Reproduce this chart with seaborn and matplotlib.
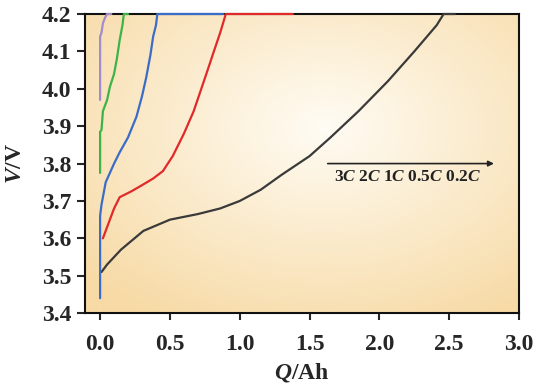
import numpy as np
import pandas as pd
import matplotlib
matplotlib.use("Agg")
import matplotlib.pyplot as plt
import seaborn as sns

sns.set_style("ticks")
plt.rcParams['font.family'] = ['Liberation Serif', 'DejaVu Serif']
plt.rcParams['font.weight'] = 'bold'
plt.rcParams['mathtext.fontset'] = 'custom'
plt.rcParams['mathtext.rm'] = 'Liberation Serif:bold'
plt.rcParams['mathtext.it'] = 'Liberation Serif:italic:bold'
plt.rcParams['mathtext.bf'] = 'Liberation Serif:bold'

# charge curves, Q in Ah, V in volts
q_02c = [0.01, 0.05, 0.15, 0.31, 0.5, 0.7, 0.86, 1.0, 1.15, 1.3, 1.5, 1.65, 1.85, 2.06, 2.25, 2.41, 2.46, 2.54]
v_02c = [3.51, 3.53, 3.57, 3.62, 3.65, 3.665, 3.68, 3.70, 3.73, 3.77, 3.82, 3.87, 3.94, 4.02, 4.10, 4.17, 4.2, 4.2]

q_05c = [0.02, 0.05, 0.10, 0.14, 0.22, 0.29, 0.38, 0.45, 0.52, 0.60, 0.67, 0.72, 0.77, 0.81, 0.86, 0.9, 1.38]
v_05c = [3.60, 3.63, 3.68, 3.71, 3.725, 3.74, 3.76, 3.78, 3.82, 3.88, 3.94, 3.995, 4.05, 4.095, 4.15, 4.2, 4.2]

q_1c = [0.0, 0.0, 0.01, 0.02, 0.04, 0.07, 0.10, 0.14, 0.20, 0.26, 0.30, 0.33, 0.36, 0.38, 0.40, 0.41, 0.88]
v_1c = [3.44, 3.66, 3.69, 3.71, 3.75, 3.775, 3.80, 3.83, 3.87, 3.925, 3.98, 4.03, 4.09, 4.14, 4.17, 4.2, 4.2]

q_2c = [0.0, 0.0, 0.01, 0.02, 0.05, 0.07, 0.10, 0.12, 0.14, 0.16, 0.17, 0.2]
v_2c = [3.775, 3.885, 3.89, 3.94, 3.97, 4.005, 4.04, 4.08, 4.13, 4.17, 4.2, 4.2]

q_3c = [0.0, 0.0, 0.01, 0.02, 0.035, 0.05, 0.08]
v_3c = [3.97, 4.14, 4.15, 4.175, 4.19, 4.2, 4.2]

rates = ["0.2C", "0.5C", "1C", "2C", "3C"]
colors = ["#3a3a3a", "#e02a2a", "#3a6cc8", "#3db34a", "#a48ccc"]
curves = {"0.2C": (q_02c, v_02c), "0.5C": (q_05c, v_05c), "1C": (q_1c, v_1c),
          "2C": (q_2c, v_2c), "3C": (q_3c, v_3c)}

rows = []
for r in rates:
    qs, vs = curves[r]
    for i, (q, v) in enumerate(zip(qs, vs)):
        rows.append({"rate": r, "Q": q, "V": v, "idx": i})
df = pd.DataFrame(rows)

fig = plt.figure(figsize=(5.39, 3.89), dpi=100)
ax = fig.add_axes([0.158, 0.195, 0.805, 0.769])

# warm radial background
yy, xx = np.mgrid[0:1:200j, 0:1:300j]
d = np.sqrt(((xx - 0.55) / 0.75) ** 2 + ((yy - 0.62) / 0.75) ** 2)
d = np.clip(d, 0, 1)
c_in = np.array([255, 252, 244]) / 255
c_out = np.array([247, 218, 165]) / 255
img = c_in[None, None, :] * (1 - d[..., None]) + c_out[None, None, :] * d[..., None]
ax.imshow(img, extent=[0, 1, 0, 1], transform=ax.transAxes, aspect='auto',
          origin='lower', zorder=0)

sns.lineplot(data=df, x="Q", y="V", hue="rate", hue_order=rates,
             palette=colors, sort=False, estimator=None, units="rate",
             linewidth=1.6, legend=False, ax=ax, zorder=3, clip_on=False)

ax.set_xlim(-0.107, 3.0)
ax.set_ylim(3.4, 4.2)
ax.set_xticks([0.0, 0.5, 1.0, 1.5, 2.0, 2.5, 3.0])
ax.set_yticks([3.4, 3.5, 3.6, 3.7, 3.8, 3.9, 4.0, 4.1, 4.2])
ax.set_xticklabels(["0.0", "0.5", "1.0", "1.5", "2.0", "2.5", "3.0"])
ax.set_yticklabels(["3.4", "3.5", "3.6", "3.7", "3.8", "3.9", "4.0", "4.1", "4.2"])
ax.tick_params(axis="x", direction="out", length=5, width=1.5,
               labelsize=17, pad=10)
ax.tick_params(axis="y", direction="out", length=6, width=1.5,
               labelsize=17, pad=4)
for lab in ax.get_xticklabels() + ax.get_yticklabels():
    lab.set_fontweight("bold")
for s in ax.spines.values():
    s.set_visible(True)
    s.set_linewidth(1.5)
    s.set_color("#111111")

ax.set_xlabel(r"$Q$/Ah", fontsize=17, fontweight="bold", labelpad=4)
ax.set_ylabel(r"$V$/V", fontsize=17, fontweight="bold", labelpad=11)

ax.annotate("", xy=(2.84, 3.80), xytext=(1.61, 3.80),
            arrowprops=dict(arrowstyle="-|>", color="#222222", lw=1.2,
                            mutation_scale=8))
ax.text(2.2, 3.765, r"3$C$ 2$C$ 1$C$ 0.5$C$ 0.2$C$", fontsize=12.5,
        fontweight="bold", ha="center", va="center", color="#222222")

fig.savefig("out.png", dpi=100)
